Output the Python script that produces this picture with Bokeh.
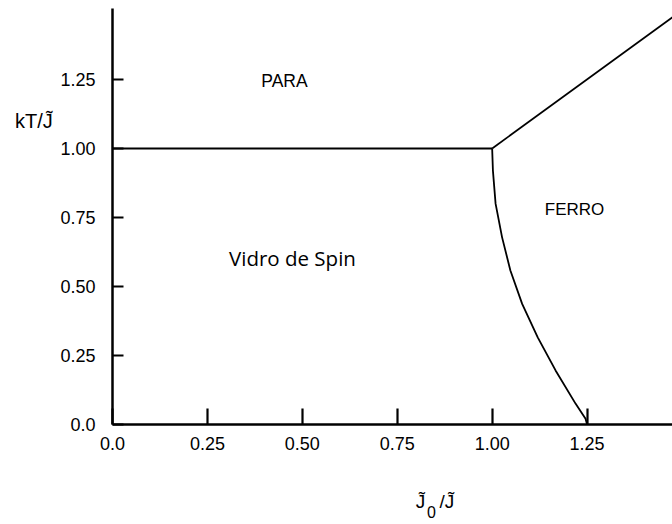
from bokeh.plotting import figure
from bokeh.models import Range1d, FixedTicker, Label, LinearAxis
from bokeh.embed import file_html
from bokeh.resources import INLINE

# Tick positions and their printed labels
x_ticks = [0.0, 0.25, 0.5, 0.75, 1.0, 1.25]
x_tick_labels = ["0.0", "0.25", "0.50", "0.75", "1.00", "1.25"]
y_ticks = [0.0, 0.25, 0.5, 0.75, 1.0, 1.25]
y_tick_labels = ["0.0", "0.25", "0.50", "0.75", "1.00", "1.25"]

# Phase boundaries (J0/J, kT/J)
sg_para_j0 = [0.0, 1.0]
sg_para_t = [1.0, 1.0]
para_ferro_j0 = [1.0, 1.55]
para_ferro_t = [1.0, 1.55]
ferro_sg_j0 = [1.000, 1.002, 1.009, 1.026, 1.048, 1.079, 1.120, 1.167, 1.220, 1.246, 1.250]
ferro_sg_t = [1.000, 0.920, 0.800, 0.679, 0.558, 0.437, 0.316, 0.196, 0.075, 0.021, 0.000]

FONT = "Liberation Sans"
X_MAX = 1.475
Y_MAX = 1.507

# The frame fills the whole canvas; the axes are pinned at J0 = 0 and kT = 0
p = figure(width=672, height=524, output_backend="svg", toolbar_location=None,
           x_range=Range1d(-0.295, X_MAX), y_range=Range1d(-0.362, 1.536),
           x_axis_type=None, y_axis_type=None,
           min_border=0)
p.outline_line_color = None
p.background_fill_color = "white"
p.border_fill_color = "white"

xaxis = LinearAxis(fixed_location=0, bounds=(0, X_MAX))
yaxis = LinearAxis(fixed_location=0, bounds=(0, Y_MAX))
p.add_layout(xaxis, "below")
p.add_layout(yaxis, "left")

for ax, ticks, labels, tick_len, standoff in (
        (xaxis, x_ticks, x_tick_labels, 16, 12),
        (yaxis, y_ticks, y_tick_labels, 11, 17)):
    ax.ticker = FixedTicker(ticks=ticks)
    ax.major_label_overrides = {float(t): s for t, s in zip(ticks, labels)}
    ax.axis_line_width = 2.5
    ax.axis_line_color = "black"
    ax.major_tick_in = tick_len
    ax.major_tick_out = 0
    ax.major_tick_line_width = 2.2
    ax.major_tick_line_color = "black"
    ax.minor_tick_line_color = None
    ax.major_label_text_font = FONT
    ax.major_label_text_font_size = "18px"
    ax.major_label_text_color = "black"
    ax.major_label_standoff = standoff

line_kw = dict(line_color="black", line_width=1.8)
p.line(sg_para_j0, sg_para_t, **line_kw)
p.line(para_ferro_j0, para_ferro_t, **line_kw)
p.line(ferro_sg_j0, ferro_sg_t, **line_kw)

def add_label(x, y, text, size="18px", font=FONT, **kw):
    p.add_layout(Label(x=x, y=y, text=text, text_font=font, text_font_size=size,
                       text_align="center", text_baseline="middle",
                       text_color="black", **kw))

add_label(0.453, 1.246, "PARA", size="17.5px")
add_label(0.474, 0.605, "Vidro de Spin", size="20.5px", font="Open Sans")
add_label(1.217, 0.779, "FERRO", size="17px")

# axis titles
add_label(-0.207, 1.098, "kT/J\u0303", size="20px")
add_label(0.811, -0.279, "J\u0303", size="19px")
add_label(0.840, -0.316, "0", size="16px")
add_label(0.881, -0.279, "/J\u0303", size="19px")

open("out.html", "w").write(file_html(p, INLINE))
